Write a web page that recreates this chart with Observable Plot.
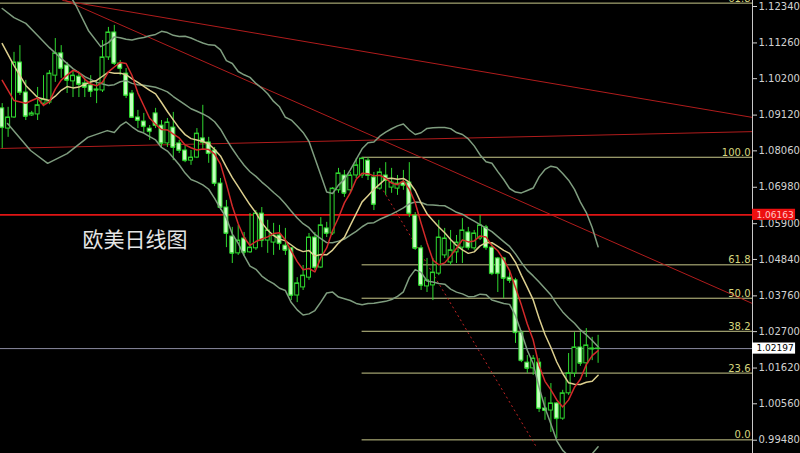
<!DOCTYPE html>
<html><head><meta charset="utf-8">
<script src="https://cdn.jsdelivr.net/npm/d3@7"></script>
<script src="https://cdn.jsdelivr.net/npm/@observablehq/plot@0.6"></script>
<style>
html,body{margin:0;padding:0;background:#000;}
#chart{width:800px;height:453px;overflow:hidden;}
</style></head><body><div id="chart"></div>
<script>
// ---- daily EUR/USD candles ----
const open = [1.0932,1.0872,1.0905,1.1068,1.0979,1.0911,1.0914,1.0946,1.0949,1.1029,
 1.1095,1.1059,1.1012,1.1026,1.1006,1.1000,1.0988,1.0985,1.1083,1.1157,
 1.1065,1.1035,1.0976,1.0905,1.0893,1.0872,1.0917,1.0881,1.0828,1.0875,
 1.0828,1.0807,1.0777,1.0786,1.0843,1.0831,1.0807,1.0709,1.0638,1.0552,
 1.0502,1.0546,1.0505,1.0517,1.0620,1.0540,1.0534,1.0555,1.0525,1.0517,
 1.0377,1.0401,1.0430,1.0549,1.0460,1.0576,1.0561,1.0689,1.0733,1.0689,
 1.0733,1.0733,1.0777,1.0727,1.0694,1.0733,1.0697,1.0694,1.0712,1.0712,
 1.0614,1.0517,1.0404,1.0407,1.0442,1.0496,1.0475,1.0505,1.0519,1.0564,
 1.0517,1.0546,1.0579,1.0519,1.0487,1.0487,1.0430,1.0422,1.0267,1.0178,
 1.0161,1.0178,1.0042,1.0036,1.0057,1.0012,1.0087,1.0146,1.0223,1.0176,
 1.0217,1.0220];
const high = [1.0946,1.0935,1.1098,1.1118,1.1015,1.0923,1.0994,1.1029,1.1044,1.1139,
 1.1118,1.1068,1.1044,1.1038,1.1021,1.1029,1.1015,1.1133,1.1172,1.1178,
 1.1074,1.1050,1.0985,1.0926,1.0917,1.0881,1.0932,1.0896,1.0902,1.0920,
 1.0837,1.0822,1.0807,1.0872,1.0941,1.0846,1.0816,1.0724,1.0659,1.0579,
 1.0585,1.0564,1.0620,1.0629,1.0638,1.0600,1.0591,1.0585,1.0576,1.0519,
 1.0430,1.0466,1.0561,1.0564,1.0608,1.0594,1.0697,1.0754,1.0748,1.0742,
 1.0783,1.0786,1.0786,1.0742,1.0754,1.0771,1.0754,1.0733,1.0748,1.0771,
 1.0623,1.0525,1.0487,1.0487,1.0600,1.0576,1.0570,1.0555,1.0605,1.0579,
 1.0570,1.0614,1.0585,1.0531,1.0490,1.0490,1.0451,1.0428,1.0273,1.0199,
 1.0199,1.0190,1.0075,1.0116,1.0060,1.0096,1.0205,1.0267,1.0267,1.0279,
 1.0253,1.0259];
const low = [1.0813,1.0846,1.0902,1.0970,1.0896,1.0908,1.0896,1.0937,1.0943,1.1009,
 1.1021,1.0976,1.0964,1.0964,1.0964,1.0964,1.0946,1.0979,1.1074,1.1059,
 1.1029,1.0961,1.0902,1.0872,1.0860,1.0837,1.0872,1.0816,1.0816,1.0777,
 1.0798,1.0771,1.0763,1.0783,1.0807,1.0769,1.0700,1.0629,1.0519,1.0472,
 1.0496,1.0493,1.0502,1.0511,1.0519,1.0502,1.0496,1.0511,1.0496,1.0362,
 1.0356,1.0392,1.0422,1.0451,1.0457,1.0549,1.0555,1.0680,1.0668,1.0680,
 1.0724,1.0724,1.0718,1.0629,1.0689,1.0674,1.0680,1.0674,1.0689,1.0608,
 1.0511,1.0392,1.0386,1.0362,1.0436,1.0487,1.0466,1.0472,1.0472,1.0511,
 1.0511,1.0540,1.0511,1.0436,1.0386,1.0368,1.0413,1.0235,1.0178,1.0146,
 1.0140,1.0030,1.0007,0.9971,0.9953,1.0007,1.0081,1.0134,1.0167,1.0134,
 1.0184,1.0176];
const close = [1.0875,1.0905,1.1068,1.0979,1.0908,1.0917,1.0941,1.0958,1.1035,1.1095,
 1.1050,1.1015,1.1029,1.1003,1.0994,1.0982,1.0986,1.1083,1.1157,1.1065,
 1.1050,1.0970,1.0905,1.0896,1.0878,1.0863,1.0881,1.0828,1.0890,1.0816,
 1.0807,1.0777,1.0786,1.0857,1.0831,1.0798,1.0709,1.0638,1.0561,1.0502,
 1.0540,1.0505,1.0519,1.0620,1.0540,1.0570,1.0555,1.0531,1.0511,1.0377,
 1.0413,1.0436,1.0549,1.0460,1.0585,1.0561,1.0694,1.0739,1.0680,1.0733,
 1.0763,1.0783,1.0733,1.0647,1.0742,1.0718,1.0712,1.0709,1.0703,1.0620,
 1.0517,1.0407,1.0422,1.0445,1.0549,1.0546,1.0511,1.0534,1.0570,1.0519,
 1.0561,1.0585,1.0519,1.0442,1.0442,1.0428,1.0422,1.0267,1.0184,1.0161,
 1.0190,1.0042,1.0036,1.0057,1.0012,1.0087,1.0146,1.0223,1.0176,1.0229,
 1.0220,1.02197];

// indicator values before the first full window
const ma5Early   = [{i:0,v:1.1015},{i:2,v:1.0955}];
const ma10Early  = [{i:0,v:1.1124},{i:2,v:1.1059},{i:4,v:1.1000},{i:6,v:1.0964},{i:8,v:1.0955}];
const bbMidEarly = [{i:0,v:1.1228},{i:2,v:1.1201},{i:4,v:1.1184},{i:6,v:1.1148},{i:8,v:1.1112},
                    {i:10,v:1.1080},{i:12,v:1.1050},{i:14,v:1.1026},{i:16,v:1.1009},{i:18,v:1.1000}];
const bbUpEarly  = [{i:11,v:1.1281},{i:12.5,v:1.1237},{i:14.6,v:1.1163},{i:16.7,v:1.1115},{i:18,v:1.1127}];
const bbLowEarly = [{i:0.9,v:1.0887},{i:4.8,v:1.0807},{i:7.7,v:1.0769},{i:11,v:1.0798},{i:14.5,v:1.0846},{i:17.8,v:1.0866}];

// price axis ticks
const yTicks = [1.12340,1.11260,1.10200,1.09120,1.08060,1.06980,1.05900,1.04840,1.03760,1.02700,1.01620,1.00560,0.99480];

// Fibonacci retracement
const fibLabels = ["0.0","23.6","38.2","50.0","61.8","100.0"];
const fibPrices = [0.9949,1.0147,1.0271,1.0369,1.0468,1.0787];
const fibFrom = 61;
const fibTop = {label:"61.8", price:1.1244};

// trend lines (candle index, price)
const trendX1 = [10.2,-0.3,10.7];
const trendP1 = [1.1252,1.0813,1.1252];
const trendX2 = [127.2,127.2,127.2];
const trendP2 = [1.0905,1.0863,1.0353];
const dashLine = {x1:64.6,p1:1.0688,x2:90.4,p2:0.9932};

const levelPrice = 1.06163;
const lastPrice = 1.02197;
const title = "欧美日线图";

// ---- build ----
const N = close.length;
const candles = d3.range(N).map(i => ({i, o:open[i], h:high[i], l:low[i], c:close[i]}));
const mean = a => d3.mean(a);
const popStd = a => { const m = d3.mean(a); return Math.sqrt(d3.mean(a, x => (x - m) ** 2)); };
function rolling(k, f) {
  const out = [];
  for (let i = k - 1; i < N; i++) out.push({i, v: f(close.slice(i - k + 1, i + 1))});
  return out;
}
const ma5 = ma5Early.concat(rolling(5, mean));
const ma10 = ma10Early.concat(rolling(10, mean));
const bbMid = bbMidEarly.concat(rolling(20, mean));
const bbUp = bbUpEarly.concat(rolling(20, a => mean(a) + 2 * popStd(a)));
const bbLow = bbLowEarly.concat(rolling(20, a => mean(a) - 2 * popStd(a)));
const fibs = fibLabels.map((label, k) => ({label, price: fibPrices[k]}));
const trends = trendX1.map((x, k) => ({x1: x, p1: trendP1[k], x2: trendX2[k], p2: trendP2[k]}));
const tags = [{price: levelPrice, kind: "level"}, {price: lastPrice, kind: "last"}];

const xMax = 127.17;
const half = 0.34;
const green = "#2fd82f";
const bearFill = "#c4ffbe";
const bbColor = "#7f9d7f";
const fibColor = "#c8c88a";
const boxH = 0.00165;

const chart = Plot.plot({
  width: 800, height: 453,
  marginTop: 0, marginBottom: 0, marginLeft: 0, marginRight: 48,
  style: {background: "#000", color: "#d2d2d2", fontFamily: "DejaVu Sans, sans-serif", fontSize: "10px"},
  x: {domain: [-0.29, xMax], axis: null},
  y: {domain: [0.99086, 1.12518]},
  marks: [
    Plot.ruleY([fibTop], {y: "price", stroke: fibColor}),
    Plot.ruleY(fibs, {y: "price", x1: fibFrom, x2: xMax, stroke: fibColor}),
    Plot.ruleY([levelPrice], {stroke: "#e01414", strokeWidth: 1.6}),
    Plot.ruleY([lastPrice], {stroke: "#8a8aa0"}),
    Plot.link(trends, {x1: "x1", y1: "p1", x2: "x2", y2: "p2", stroke: "#b01c1c", clip: true}),
    Plot.link([dashLine], {x1: "x1", y1: "p1", x2: "x2", y2: "p2", stroke: "#c02424", strokeDasharray: "2,3", clip: true}),
    Plot.ruleX(candles, {x: "i", y1: "l", y2: "h", stroke: green}),
    Plot.rect(candles, {x1: d => d.i - half, x2: d => d.i + half, y1: "o", y2: "c",
      fill: d => d.c < d.o ? bearFill : "#000", stroke: green}),
    Plot.ruleY(candles, {y: "c", x1: d => d.i - half, x2: d => d.i + half, stroke: green}),
    Plot.line(bbUp, {x: "i", y: "v", stroke: bbColor, clip: true}),
    Plot.line(bbMid, {x: "i", y: "v", stroke: bbColor, clip: true}),
    Plot.line(bbLow, {x: "i", y: "v", stroke: bbColor, clip: true}),
    Plot.line(ma10, {x: "i", y: "v", stroke: "#dccf8e", clip: true}),
    Plot.line(ma5, {x: "i", y: "v", stroke: "#d42a2a", clip: true}),
    Plot.text(fibs.concat([fibTop]), {x: xMax, y: "price", text: "label", textAnchor: "end", lineAnchor: "bottom",
      dx: -2, dy: -1.5, fill: "#d6d67e", fontSize: 10}),
    Plot.text([title], {frameAnchor: "top-left", dx: 82, dy: 240, text: d => d, textAnchor: "start", lineAnchor: "middle",
      fontSize: 21, fill: "#e6e6e6", fontFamily: "Noto Sans CJK SC"}),
    Plot.ruleX([xMax], {stroke: "#c8c8c8"}),
    Plot.axisY({anchor: "right", ticks: yTicks, tickFormat: d3.format(".5f"), tickSize: 4, tickPadding: 2, label: null}),
    Plot.rect(tags, {x1: xMax, x2: xMax + 7.3, y1: d => d.price - boxH, y2: d => d.price + boxH,
      fill: d => d.kind === "level" ? "#ee1010" : "#ffffff"}),
    Plot.text(tags, {x: xMax, y: "price", text: d => d.price.toFixed(5), textAnchor: "start", dx: 4,
      fill: d => d.kind === "level" ? "#ffc8c8" : "#000", fontSize: 9})
  ]
});
document.getElementById("chart").appendChild(chart);
</script>
</body></html>
